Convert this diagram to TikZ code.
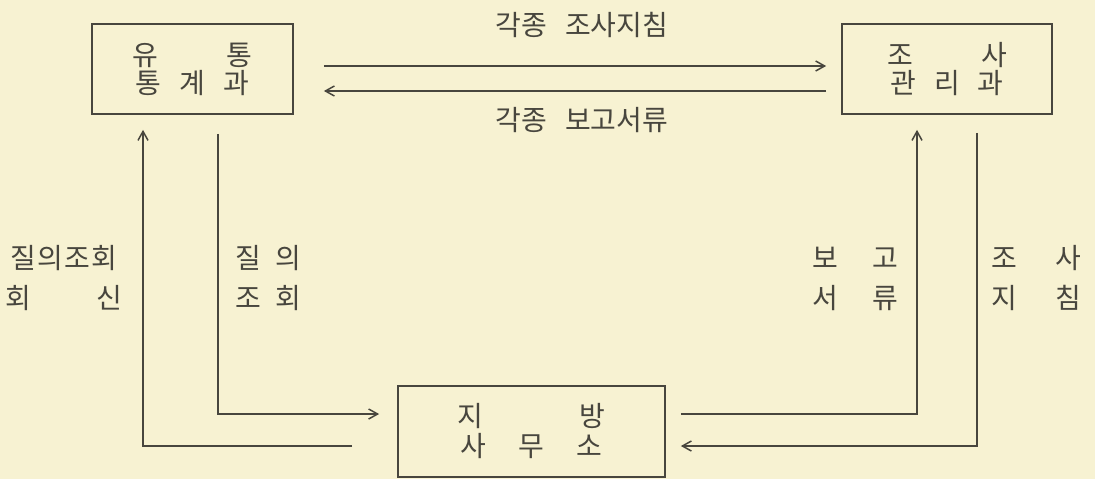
\documentclass[tikz,border=0pt]{standalone}
\usepackage{fontspec}
\setmainfont{Noto Sans CJK KR}
\usetikzlibrary{arrows.meta}
\definecolor{paper}{RGB}{247,242,210}
\definecolor{ink}{RGB}{72,70,62}
\begin{document}
\begin{tikzpicture}[x=1pt,y=-1pt,
  every node/.style={text=ink, inner sep=0pt, font=\fontsize{28}{28}\selectfont},
  box/.style={draw=ink, line width=1.7pt, align=center},
  ln/.style={draw=ink, line width=1.7pt},
  arr/.style={ln, -{Straight Barb[length=9pt,width=10pt,line width=1.5pt]}}]
\fill[paper] (0,0) rectangle (1095,479);
\useasboundingbox (0,0) rectangle (1095,479);

% boxes
\node[box, minimum width=201pt, minimum height=90pt] (L) at (192.5,69)
  {\makebox[120pt][s]{유\hfill 통}\\ 통\hspace{18pt}계\hspace{18pt}과};
\node[box, minimum width=210pt, minimum height=90pt] (R) at (947,69)
  {\makebox[120pt][s]{조\hfill 사}\\ 관\hspace{18pt}리\hspace{18pt}과};
\node[box, minimum width=267pt, minimum height=91pt, font=\fontsize{28}{30}\selectfont] (B) at (531.5,431.5)
  {\makebox[148pt][s]{지\hfill 방}\\ 사\hspace{32pt}무\hspace{32pt}소};

% top connectors
\draw[arr, shorten <=30pt, shorten >=15pt] ([yshift=3pt]L.east) -- ([yshift=3pt]R.west);
\draw[arr, shorten <=15pt, shorten >=30pt] ([yshift=-22pt]R.west) -- ([yshift=-22pt]L.east);

% left connectors
\draw[arr, shorten <=19pt, shorten >=18pt] ([xshift=25.5pt]L.south) |- ([yshift=17.5pt]B.west);
\draw[arr, shorten <=45pt, shorten >=15pt] ([yshift=-14.5pt]B.west) -| ([xshift=-49.5pt]L.south);

% right connectors
\draw[arr, shorten <=15pt, shorten >=15pt] ([yshift=17.5pt]B.east) -| ([xshift=-30pt]R.south);
\draw[arr, shorten <=18pt, shorten >=15pt] ([xshift=30pt]R.south) |- ([yshift=-14.5pt]B.east);

% labels
\node (t1) at (582,25) {각종\hspace{18pt}조사지침};
\node (t2) at (582,120) {각종\hspace{18pt}보고서류};

\node (a1) at (64,258) {질\hspace{1pt}의\hspace{1pt}조\hspace{1pt}회};
\node (a2) at (64,298) {\makebox[117pt][s]{회\hfill 신}};
\node (b1) at (268.5,258) {질\hspace{15pt}의};
\node (b2) at (268.5,298) {조\hspace{15pt}회};
\node (c1) at (855,258) {보\hspace{34pt}고};
\node (c2) at (855,298) {서\hspace{34pt}류};
\node (d1) at (1036.5,258) {조\hspace{39pt}사};
\node (d2) at (1036.5,298) {지\hspace{39pt}침};
\end{tikzpicture}
\end{document}
